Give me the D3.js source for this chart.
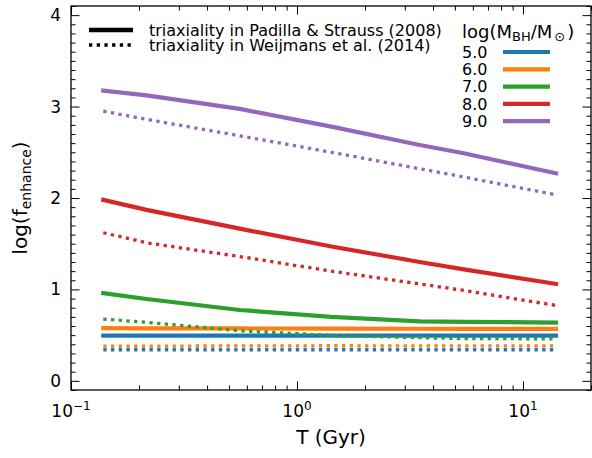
<!DOCTYPE html>
<html>
<head>
<meta charset="utf-8">
<script src="https://cdn.jsdelivr.net/npm/d3@7"></script>
<style>
  html, body { margin: 0; padding: 0; background: #fff; }
  svg { display: block; font-family: "DejaVu Sans", sans-serif; }
</style>
</head>
<body>
<svg id="chart" width="592" height="458"></svg>
<script>
// Cosmic time samples (Gyr)
const times = [0.139, 0.216, 0.558, 1.42, 3.49, 5.47, 14.0];

// Black-hole masses, log(M_BH / M_sun)
const massLabels = ["5.0", "6.0", "7.0", "8.0", "9.0"];
const massColors = ["#1f77b4", "#ff7f0e", "#2ca02c", "#d62728", "#9467bd"];

// log(f_enhance) with triaxiality from Padilla & Strauss (2008)
const padillaM5 = [0.495, 0.495, 0.495, 0.495, 0.495, 0.495, 0.495];
const padillaM6 = [0.577, 0.575, 0.573, 0.571, 0.570, 0.569, 0.568];
const padillaM7 = [0.960, 0.895, 0.775, 0.700, 0.650, 0.645, 0.638];
const padillaM8 = [1.980, 1.870, 1.665, 1.470, 1.300, 1.220, 1.060];
const padillaM9 = [3.175, 3.123, 2.975, 2.780, 2.580, 2.490, 2.270];

// log(f_enhance) with triaxiality from Weijmans et al. (2014)
const weijmansM5 = [0.340, 0.340, 0.340, 0.340, 0.340, 0.340, 0.340];
const weijmansM6 = [0.380, 0.380, 0.382, 0.384, 0.383, 0.382, 0.382];
const weijmansM7 = [0.676, 0.640, 0.548, 0.497, 0.472, 0.462, 0.460];
const weijmansM8 = [1.620, 1.510, 1.360, 1.200, 1.060, 0.990, 0.825];
const weijmansM9 = [2.950, 2.860, 2.680, 2.500, 2.320, 2.230, 2.035];

const padilla = [padillaM5, padillaM6, padillaM7, padillaM8, padillaM9];
const weijmans = [weijmansM5, weijmansM6, weijmansM7, weijmansM8, weijmansM9];

// Axis ticks
const xMajorTicks = [0.1, 1, 10];
const xMajorExponents = ["\u22121", "0", "1"];
const xMinorTicks = [0.2, 0.3, 0.4, 0.5, 0.6, 0.7, 0.8, 0.9, 2, 3, 4, 5, 6, 7, 8, 9, 20];
const yMajorTicks = [0, 1, 2, 3, 4];
const yMinorTicks = d3.range(-1, 42).map(d => d / 10).filter(d => Math.abs(d - Math.round(d)) > 1e-9);

const svg = d3.select("#chart");
const L = 71, R = 591, T = 6, B = 390;

const x = d3.scaleLog().domain([0.1, 20]).range([L, R]);
const y = d3.scaleLinear().domain([-0.1, 4.1]).range([B, T]);

// Plot clip
svg.append("defs").append("clipPath").attr("id", "plotClip")
  .append("rect").attr("x", L).attr("y", T).attr("width", R - L).attr("height", B - T);

const line = d3.line().x((d, i) => x(times[i])).y(d => y(d));

const plot = svg.append("g").attr("clip-path", "url(#plotClip)");
massLabels.forEach((m, k) => {
  plot.append("path").datum(padilla[k])
    .attr("d", line).attr("fill", "none")
    .attr("stroke", massColors[k]).attr("stroke-width", 4.2)
    .attr("stroke-linecap", "square").attr("stroke-linejoin", "round");
  plot.append("path").datum(weijmans[k])
    .attr("d", line).attr("fill", "none")
    .attr("stroke", massColors[k]).attr("stroke-width", 3.3)
    .attr("stroke-dasharray", "3.3 4.4");
});

// Ticks pointing inward on all four sides
function ticks(axisFn, scale, values, size, transform) {
  const g = svg.append("g").attr("transform", transform)
    .call(axisFn(scale).tickValues(values).tickSize(-size).tickFormat("").tickSizeOuter(0));
  g.select(".domain").remove();
  g.selectAll(".tick line").attr("stroke", "#000").attr("stroke-width", 1);
  return g;
}
ticks(d3.axisBottom, x, xMajorTicks, 8.5, `translate(0,${B})`);
ticks(d3.axisBottom, x, xMinorTicks, 4.5, `translate(0,${B})`);
ticks(d3.axisTop, x, xMajorTicks, 8.5, `translate(0,${T})`);
ticks(d3.axisTop, x, xMinorTicks, 4.5, `translate(0,${T})`);
ticks(d3.axisLeft, y, yMajorTicks, 8.5, `translate(${L},0)`);
ticks(d3.axisLeft, y, yMinorTicks, 4.5, `translate(${L},0)`);
ticks(d3.axisRight, y, yMajorTicks, 8.5, `translate(${R},0)`);
ticks(d3.axisRight, y, yMinorTicks, 4.5, `translate(${R},0)`);

// Frame
svg.append("rect").attr("x", L).attr("y", T).attr("width", R - L).attr("height", B - T)
  .attr("fill", "none").attr("stroke", "#000").attr("stroke-width", 1.3);

// X tick labels (powers of ten)
xMajorTicks.forEach((v, i) => {
  const t = svg.append("text").attr("x", x(v)).attr("y", 417)
    .attr("text-anchor", "middle").attr("font-size", 17);
  t.append("tspan").text("10");
  t.append("tspan").attr("dy", -7).attr("font-size", 12).text(xMajorExponents[i]);
});

// Y tick labels
yMajorTicks.forEach(v => {
  svg.append("text").attr("x", 61).attr("y", y(v) + 6)
    .attr("text-anchor", "end").attr("font-size", 17).text(v);
});

// Axis titles
svg.append("text").attr("x", (L + R) / 2).attr("y", 444)
  .attr("text-anchor", "middle").attr("font-size", 20).text("T (Gyr)");

const yl = svg.append("text").attr("transform", `translate(27,${(T + B) / 2}) rotate(-90)`)
  .attr("text-anchor", "middle").attr("font-size", 20);
yl.append("tspan").text("log(f");
yl.append("tspan").attr("dy", 4).attr("font-size", 14).text("enhance");
yl.append("tspan").attr("dy", -4).text(")");

// Line-style legend
const styleLegend = [
  { label: "triaxiality in Padilla & Strauss (2008)", width: 4.4, dash: null },
  { label: "triaxiality in Weijmans et al. (2014)", width: 3.3, dash: "3.3 4.4" }
];
styleLegend.forEach((d, i) => {
  const yy = 30 + i * 15;
  svg.append("line").attr("x1", 89).attr("x2", 133).attr("y1", yy).attr("y2", yy)
    .attr("stroke", "#000").attr("stroke-width", d.width)
    .attr("stroke-dasharray", d.dash);
  svg.append("text").attr("x", 149).attr("y", yy + 5.5).attr("font-size", 16).text(d.label);
});

// Mass legend
const mt = svg.append("text").attr("x", 462).attr("y", 38).attr("font-size", 18);
mt.append("tspan").text("log(M");
mt.append("tspan").attr("dy", 3).attr("font-size", 13).text("BH");
mt.append("tspan").attr("dy", -3).text("/M");
mt.append("tspan").attr("dy", 3).attr("dx", 2).attr("font-size", 13).text("\u2299");
mt.append("tspan").attr("dy", -3).attr("dx", 2).text(")");

massLabels.forEach((m, k) => {
  const yy = 52 + k * 17.3;
  svg.append("text").attr("x", 462).attr("y", yy + 5.8).attr("font-size", 16).text(m);
  svg.append("line").attr("x1", 503).attr("x2", 550).attr("y1", yy).attr("y2", yy)
    .attr("stroke", massColors[k]).attr("stroke-width", 4.2);
});
</script>
</body>
</html>
